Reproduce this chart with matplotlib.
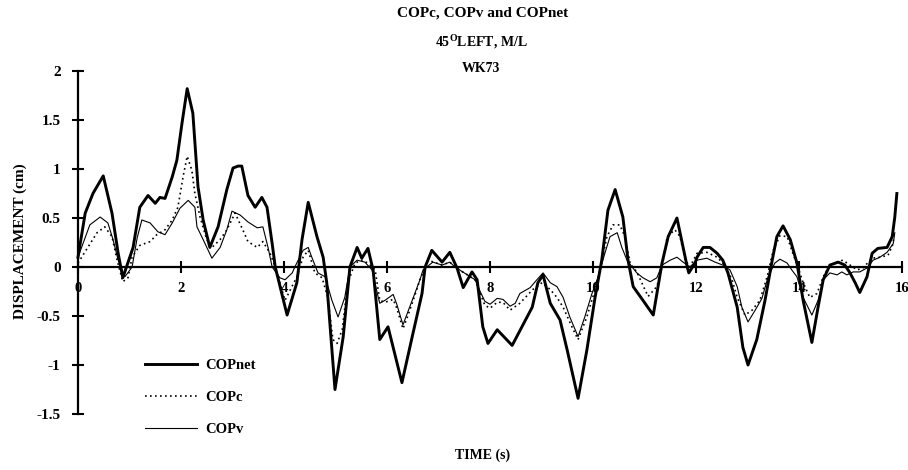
import matplotlib
matplotlib.use("Agg")
import matplotlib.pyplot as plt

plt.rcParams['font.family'] = ['Liberation Serif', 'DejaVu Serif']
plt.rcParams['font.weight'] = 'bold'
plt.rcParams['mathtext.fontset'] = 'custom'
plt.rcParams['mathtext.rm'] = 'Liberation Serif:bold'
plt.rcParams['mathtext.bf'] = 'Liberation Serif:bold'

# COPnet (thick line)
t_net = [0.00, 0.14, 0.29, 0.49, 0.66, 0.78, 0.87, 1.07, 1.20, 1.36, 1.50, 1.59, 1.69, 1.83,
         1.92, 2.02, 2.12, 2.23, 2.33, 2.43, 2.56, 2.72, 2.89, 3.01, 3.11, 3.18, 3.30, 3.44,
         3.57, 3.67, 3.77, 3.83, 4.06, 4.25, 4.35, 4.47, 4.64, 4.76, 4.83, 4.99, 5.15, 5.28,
         5.42, 5.51, 5.63, 5.73, 5.86, 6.02, 6.29, 6.49, 6.68, 6.74, 6.87, 7.07, 7.22, 7.36,
         7.48, 7.65, 7.75, 7.86, 7.96, 8.14, 8.43, 8.62, 8.82, 8.93, 9.03, 9.17, 9.36, 9.50,
         9.71, 9.88, 10.04, 10.17, 10.29, 10.43, 10.58, 10.68, 10.78, 10.97, 11.17, 11.34,
         11.46, 11.63, 11.75, 11.83, 11.86, 11.98, 12.02, 12.14, 12.27, 12.41, 12.52, 12.62,
         12.80, 12.91, 13.01, 13.18, 13.34, 13.48, 13.57, 13.69, 13.83, 13.96, 14.08, 14.25,
         14.37, 14.47, 14.60, 14.76, 14.89, 14.99, 15.09, 15.18, 15.32, 15.42, 15.53, 15.71,
         15.81, 15.86, 15.90]
cop_net = [0.10, 0.55, 0.75, 0.93, 0.55, 0.14, -0.11, 0.20, 0.61, 0.73, 0.65, 0.71, 0.70, 0.92,
           1.09, 1.47, 1.82, 1.57, 0.82, 0.48, 0.20, 0.41, 0.79, 1.01, 1.03, 1.03, 0.73, 0.61,
           0.71, 0.61, 0.24, 0.00, -0.49, -0.16, 0.28, 0.66, 0.31, 0.10, -0.16, -1.25, -0.71, 0.00,
           0.20, 0.09, 0.19, -0.03, -0.74, -0.61, -1.18, -0.71, -0.27, 0.00, 0.17, 0.05, 0.15, -0.01,
           -0.21, -0.05, -0.13, -0.61, -0.78, -0.64, -0.80, -0.61, -0.41, -0.16, -0.08, -0.37, -0.54, -0.85,
           -1.34, -0.85, -0.31, 0.07, 0.58, 0.79, 0.51, 0.07, -0.20, -0.34, -0.49, 0.04,
           0.31, 0.50, 0.20, 0.00, -0.06, 0.04, 0.10, 0.20, 0.20, 0.14, 0.07, -0.06,
           -0.41, -0.82, -1.00, -0.74, -0.34, 0.07, 0.31, 0.42, 0.28, 0.04, -0.34, -0.77,
           -0.41, -0.13, 0.02, 0.05, 0.02, -0.06, -0.16, -0.26, -0.10, 0.14, 0.19, 0.20,
           0.31, 0.51, 0.75]

# COPc (dotted line)
t_c = [0.00, 0.19, 0.37, 0.52, 0.66, 0.76, 0.87, 0.97, 1.05, 1.20, 1.40, 1.53, 1.69, 1.83,
       1.94, 2.04, 2.12, 2.21, 2.27, 2.37, 2.50, 2.60, 2.76, 2.89, 3.05, 3.20, 3.30, 3.48,
       3.59, 3.73, 3.83, 4.02, 4.25, 4.37, 4.47, 4.60, 4.74, 4.85, 4.95, 5.03, 5.13, 5.24,
       5.38, 5.51, 5.63, 5.77, 5.86, 5.96, 6.12, 6.19, 6.31, 6.41, 6.54, 6.64, 6.80, 7.07,
       7.22, 7.32, 7.71, 7.81, 7.90, 8.00, 8.14, 8.25, 8.39, 8.58, 8.83, 9.01, 9.17, 9.30,
       9.42, 9.59, 9.71, 9.88, 10.04, 10.17, 10.27, 10.39, 10.52, 10.62, 10.72, 10.85, 11.07,
       11.24, 11.34, 11.44, 11.59, 11.69, 11.79, 11.88, 12.02, 12.21, 12.41, 12.56, 12.70,
       12.80, 12.95, 13.09, 13.24, 13.38, 13.50, 13.63, 13.77, 13.88, 13.98, 14.08, 14.21,
       14.35, 14.47, 14.60, 14.74, 14.85, 14.99, 15.13, 15.24, 15.42, 15.57, 15.73, 15.83, 15.84]
cop_c = [0.04, 0.20, 0.35, 0.41, 0.31, 0.07, -0.15, -0.11, 0.10, 0.22, 0.26, 0.33, 0.38, 0.48,
         0.61, 0.92, 1.13, 0.99, 0.75, 0.51, 0.28, 0.20, 0.28, 0.38, 0.55, 0.38, 0.26, 0.20,
         0.26, 0.14, 0.00, -0.34, -0.10, 0.10, 0.17, -0.06, -0.11, -0.31, -0.74, -0.78, -0.64, -0.16,
         0.04, 0.07, 0.04, -0.03, -0.34, -0.36, -0.33, -0.42, -0.63, -0.49, -0.29, -0.13, 0.07, 0.02,
         0.05, 0.00, -0.13, -0.27, -0.39, -0.42, -0.36, -0.36, -0.44, -0.37, -0.23, -0.16, -0.23, -0.31,
         -0.41, -0.61, -0.74, -0.51, -0.23, 0.05, 0.31, 0.43, 0.43, 0.31, 0.04, -0.05, -0.30,
         -0.20, 0.00, 0.31, 0.38, 0.31, 0.07, 0.00, 0.14, 0.15, 0.10, 0.02, -0.13,
         -0.31, -0.49, -0.44, -0.34, -0.10, 0.17, 0.32, 0.31, 0.14, 0.00, -0.16, -0.31,
         -0.27, -0.10, 0.02, 0.05, 0.07, 0.02, -0.03, -0.01, 0.09, 0.10, 0.12, 0.24, 0.35]

# COPv (thin line)
t_v = [0.00, 0.23, 0.43, 0.58, 0.68, 0.78, 0.91, 1.05, 1.15, 1.24, 1.40, 1.55, 1.69, 1.83,
       1.98, 2.14, 2.27, 2.31, 2.43, 2.60, 2.76, 2.89, 2.99, 3.15, 3.30, 3.48, 3.59, 3.69,
       3.77, 3.92, 4.02, 4.16, 4.21, 4.37, 4.47, 4.54, 4.66, 4.80, 4.93, 5.05, 5.18, 5.28,
       5.42, 5.57, 5.71, 5.83, 5.86, 5.96, 6.12, 6.19, 6.31, 6.41, 6.54, 6.64, 6.70, 6.89,
       7.07, 7.22, 7.32, 7.71, 7.81, 7.90, 8.00, 8.14, 8.25, 8.39, 8.49, 8.58, 8.78, 8.91,
       9.03, 9.17, 9.30, 9.42, 9.55, 9.71, 9.84, 9.98, 10.10, 10.23, 10.33, 10.47, 10.56,
       10.66, 10.76, 10.85, 10.97, 11.11, 11.24, 11.34, 11.50, 11.63, 11.75, 11.88, 12.02,
       12.21, 12.37, 12.52, 12.66, 12.80, 12.89, 13.01, 13.15, 13.28, 13.40, 13.53, 13.63,
       13.77, 13.86, 13.96, 14.08, 14.25, 14.37, 14.47, 14.60, 14.74, 14.83, 14.93, 15.05,
       15.18, 15.32, 15.44, 15.57, 15.71, 15.83, 15.86]
cop_v = [0.10, 0.43, 0.51, 0.45, 0.28, 0.07, -0.10, 0.00, 0.30, 0.48, 0.45, 0.36, 0.33, 0.45,
         0.60, 0.68, 0.61, 0.41, 0.28, 0.09, 0.20, 0.38, 0.57, 0.53, 0.46, 0.40, 0.41, 0.20,
         0.00, -0.11, -0.13, -0.06, 0.00, 0.17, 0.20, 0.10, -0.06, -0.10, -0.34, -0.51, -0.31, 0.00,
         0.07, 0.05, -0.03, -0.31, -0.37, -0.34, -0.28, -0.38, -0.59, -0.45, -0.27, -0.13, -0.03, 0.05,
         0.02, 0.05, 0.00, -0.13, -0.25, -0.35, -0.38, -0.32, -0.33, -0.40, -0.37, -0.27, -0.21, -0.13,
         -0.06, -0.16, -0.20, -0.31, -0.51, -0.71, -0.51, -0.27, -0.10, 0.14, 0.31, 0.35, 0.20,
         0.07, 0.00, -0.06, -0.11, -0.15, -0.11, 0.02, 0.07, 0.10, 0.05, 0.00, 0.07,
         0.09, 0.05, 0.02, -0.03, -0.20, -0.41, -0.56, -0.44, -0.32, -0.10, 0.04, 0.08,
         0.04, -0.03, -0.10, -0.31, -0.49, -0.34, -0.13, -0.06, -0.08, -0.05, -0.08, -0.05,
         -0.05, -0.01, 0.07, 0.10, 0.15, 0.24, 0.35]

x_ticks = [0, 2, 4, 6, 8, 10, 12, 14, 16]
y_ticks = [-1.5, -1, -0.5, 0, 0.5, 1, 1.5, 2]
y_labels = ['-1.5', '-1', '-0.5', '0', '0.5', '1', '1.5', '2']

fig = plt.figure(figsize=(9.08, 4.70), dpi=100)
ax = fig.add_axes([0.0859, 0.1191, 0.9075, 0.7298])

ax.plot(t_net, cop_net, color='black', lw=2.1, label='COPnet', zorder=3, clip_on=False,
        solid_joinstyle='round')
ax.plot(t_c, cop_c, color='black', lw=1.2, linestyle=(0, (1, 2)), label='COPc', zorder=3,
        clip_on=False)
ax.plot(t_v, cop_v, color='black', lw=0.8, label='COPv', zorder=3, clip_on=False,
        solid_joinstyle='round')

ax.set_xlim(0, 16)
ax.set_ylim(-1.5, 2)
ax.spines['top'].set_visible(False)
ax.spines['right'].set_visible(False)
ax.spines['bottom'].set_position(('data', 0))
ax.spines['bottom'].set_linewidth(1.6)
ax.spines['left'].set_linewidth(1.6)
ax.set_xticks(x_ticks)
ax.set_xticklabels([str(v) for v in x_ticks])
ax.set_yticks(y_ticks)
ax.set_yticklabels(y_labels)
ax.tick_params(axis='x', direction='inout', length=8, width=1.5, labelsize=10.5, pad=7)
ax.tick_params(axis='y', direction='inout', length=9, width=1.5, labelsize=11, pad=8)

leg = ax.legend(loc='upper left', bbox_to_anchor=(0.065, 0.20), frameon=False, fontsize=10.5,
                handlelength=3.6, labelspacing=1.3, handletextpad=0.55)

fig.text(0.532, 0.972, 'COPc, COPv and COPnet', ha='center', va='center', fontsize=11)
fig.text(0.530, 0.911, '45$^{\\rm O}$LEFT, M/L', ha='center', va='center', fontsize=10)
fig.text(0.530, 0.855, 'WK73', ha='center', va='center', fontsize=10)
fig.text(0.022, 0.487, 'DISPLACEMENT (cm)', rotation=90, ha='center', va='center', fontsize=11)
fig.text(0.532, 0.032, 'TIME (s)', ha='center', va='center', fontsize=10)

fig.savefig('out.png', dpi=100)
